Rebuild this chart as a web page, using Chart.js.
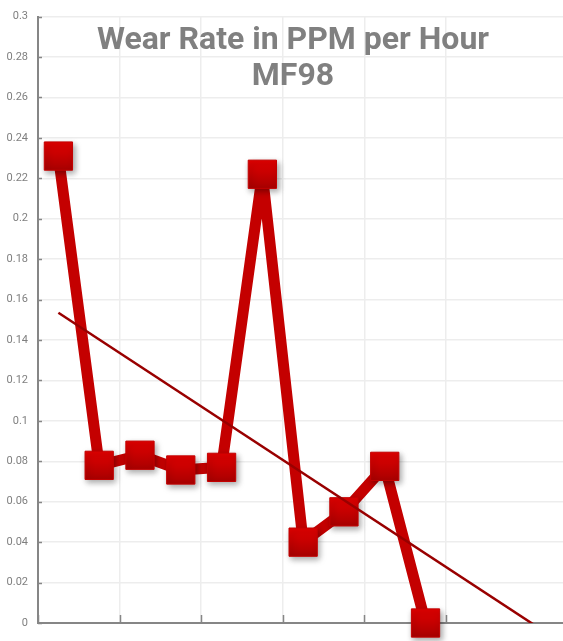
<!DOCTYPE html>
<html>
<head>
<meta charset="utf-8">
<script src="https://cdn.jsdelivr.net/npm/chart.js@4.4.1/dist/chart.umd.min.js"></script>
<style>
    html, body { margin: 0; padding: 0; background: #fff; overflow: hidden; }
    #wrap { width: 563px; height: 641px; }
</style>
</head>
<body>
<div id="wrap"><canvas id="myChart"></canvas></div>
<script>
// data
var samples = [1, 2, 3, 4, 5, 6, 7, 8, 9, 10];
var wearRate = [0.231, 0.078, 0.083, 0.0757, 0.077, 0.222, 0.040, 0.055, 0.0775, 0.0];
var titleLines = ["Wear Rate in PPM per Hour", "MF98"];

var yMin = 0, yMax = 0.3, yStep = 0.02;
var xMax = 12.87; // plot runs past the right edge of the window

// samples sit in the middle of their slot
var seriesPoints = samples.map(function (s, i) {
    return { x: s - 0.5, y: wearRate[i] };
});

// linear trendline (least squares)
function trendPoints() {
    var n = samples.length, sx = 0, sy = 0, sxx = 0, sxy = 0;
    for (var i = 0; i < n; i++) {
        sx += samples[i]; sy += wearRate[i];
        sxx += samples[i] * samples[i]; sxy += samples[i] * wearRate[i];
    }
    var b = (n * sxy - sx * sy) / (n * sxx - sx * sx);
    var a = (sy - b * sx) / n;
    var s0 = samples[0], s1 = xMax + 0.5;
    return [{ x: s0 - 0.5, y: a + b * s0 }, { x: s1 - 0.5, y: a + b * s1 }];
}

function markerFill(context) {
    var chart = context.chart;
    if (!chart.chartArea || !context.parsed) {
        return "#cc0000";
    }
    var y = chart.scales.y.getPixelForValue(context.parsed.y);
    var g = chart.ctx.createLinearGradient(0, y - 14, 0, y + 14);
    g.addColorStop(0, "#e10000");
    g.addColorStop(1, "#a90000");
    return g;
}

const shadowPlugin = {
    id: "markerShadow",
    beforeDatasetDraw(chart, args) {
        if (args.index === 1) {
            const ctx = chart.ctx;
            ctx.save();
            ctx.shadowColor = "rgba(0,0,0,0.35)";
            ctx.shadowBlur = 6;
            ctx.shadowOffsetX = 2;
            ctx.shadowOffsetY = 3;
        }
    },
    afterDatasetDraw(chart, args) {
        if (args.index === 1) {
            chart.ctx.restore();
        }
    },
};

// inner tick marks, like the original
const innerTicks = {
    id: "innerTicks",
    beforeDatasetsDraw(chart) {
        const ctx = chart.ctx;
        const { x, y } = chart.scales;
        const area = chart.chartArea;
        ctx.save();
        ctx.strokeStyle = "#868686";
        ctx.lineWidth = 1.5;
        ctx.beginPath();
        y.ticks.forEach(function (t) {
            const py = Math.round(y.getPixelForValue(t.value)) + 0.5;
            ctx.moveTo(area.left, py);
            ctx.lineTo(area.left + 4, py);
        });
        x.ticks.forEach(function (t) {
            const px = Math.round(x.getPixelForValue(t.value)) + 0.5;
            ctx.moveTo(px, area.bottom);
            ctx.lineTo(px, area.bottom - 8);
        });
        ctx.stroke();
        ctx.restore();
    },
};

const titlePlugin = {
    id: "innerTitle",
    afterDraw(chart) {
        const ctx = chart.ctx;
        ctx.save();
        ctx.font = "bold 32px Roboto";
        ctx.fillStyle = "#808080";
        ctx.textAlign = "center";
        ctx.textBaseline = "alphabetic";
        titleLines.forEach(function (line, i) {
            ctx.fillText(line, 293, 49 + i * 36);
        });
        ctx.restore();
    },
};

const config = {
    type: "line",
    data: {
        datasets: [
            {
                label: "Trend",
                data: trendPoints(),
                borderColor: "#990000",
                borderWidth: 2.5,
                pointRadius: 0,
                order: 0,
            },
            {
                label: "Markers",
                data: seriesPoints,
                showLine: false,
                pointStyle: "rect",
                pointRadius: 20,
                pointBorderWidth: 1,
                pointBorderColor: "#c40000",
                pointBackgroundColor: markerFill,
                clip: false,
                order: 1,
            },
            {
                label: "Wear Rate",
                data: seriesPoints,
                borderColor: "#c40000",
                borderWidth: 11,
                borderJoinStyle: "round",
                pointRadius: 0,
                tension: 0,
                clip: false,
                order: 2,
            },
        ],
    },
    options: {
        responsive: true,
        maintainAspectRatio: false,
        animation: false,
        layout: { autoPadding: false, padding: { top: 13, right: 0, bottom: 0, left: 0 } },
        plugins: {
            legend: { display: false },
            tooltip: { enabled: false },
        },
        scales: {
            x: {
                type: "linear",
                min: 0,
                max: xMax,
                ticks: { display: false, stepSize: 2 },
                afterBuildTicks: function (scale) {
                    scale.ticks = scale.ticks.filter(function (t) {
                        return Math.abs(t.value % 2) < 1e-6;
                    });
                },
                grid: { color: "#ededed", lineWidth: 1.5, drawTicks: false },
                border: { color: "#868686", width: 2 },
                afterFit: function (scale) { scale.height = 18; },
            },
            y: {
                min: yMin,
                max: yMax,
                ticks: {
                    stepSize: yStep,
                    color: "#7f7f7f",
                    font: { family: "Roboto", size: 11 },
                    padding: 10,
                    callback: function (v) { return String(+v.toFixed(2)); },
                },
                grid: { color: "#ededed", lineWidth: 1.5, drawTicks: false },
                border: { color: "#868686", width: 2 },
                afterFit: function (scale) { scale.width = 38; },
            },
        },
    },
    plugins: [shadowPlugin, innerTicks, titlePlugin],
};

const myChart = new Chart(document.getElementById("myChart"), config);
</script>
</body>
</html>
